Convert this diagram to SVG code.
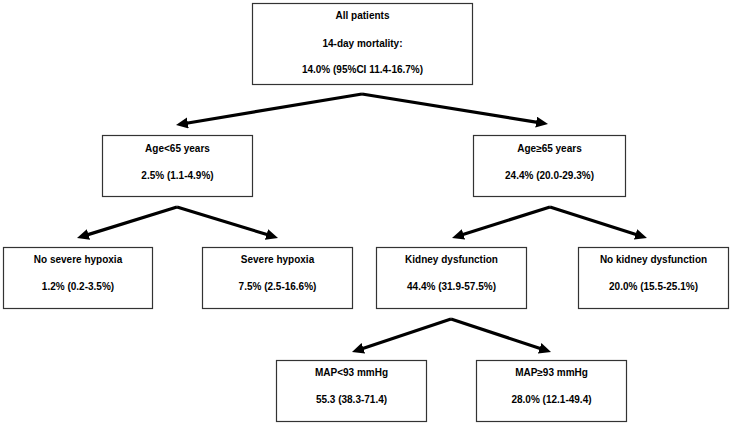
<svg xmlns="http://www.w3.org/2000/svg" width="731" height="424" viewBox="0 0 731 424">
<style>
.box{fill:#fff;stroke:#333;stroke-width:1.2}
.t{font-family:"Liberation Sans",Arial,sans-serif;font-weight:bold;font-size:10px;fill:#000;text-anchor:middle}
.arr{fill:none;stroke:#000;stroke-width:3.2;stroke-linejoin:miter}
</style>
<defs>
<marker id="ah" markerUnits="userSpaceOnUse" markerWidth="14" markerHeight="12" refX="3" refY="5.5" orient="auto">
<path d="M0,0 L12,5.5 L0,11 z" fill="#000"/>
</marker>
</defs>
<rect width="731" height="424" fill="#fff"/>
<g id="connectors">
<path class="arr" d="M362,94 L184.9,123.5" marker-end="url(#ah)"/>
<path class="arr" d="M362,94 L539.1,122.6" marker-end="url(#ah)"/>
<path class="arr" d="M177,207 L85.6,235.4" marker-end="url(#ah)"/>
<path class="arr" d="M177,207 L269.4,235.3" marker-end="url(#ah)"/>
<path class="arr" d="M550,207 L460.6,235.3" marker-end="url(#ah)"/>
<path class="arr" d="M550,207 L638.4,235.3" marker-end="url(#ah)"/>
<path class="arr" d="M451,319 L360.5,349.2" marker-end="url(#ah)"/>
<path class="arr" d="M451,319 L542.5,349.2" marker-end="url(#ah)"/>
</g>
<g id="all">
<rect class="box" x="252.5" y="3.5" width="220" height="81"/>
<text class="t" x="362.5" y="18.5">All patients</text>
<text class="t" x="362.5" y="47">14-day mortality:</text>
<text class="t" x="362.5" y="72.5">14.0% (95%CI 11.4-16.7%)</text>
</g>
<g id="age-lt65">
<rect class="box" x="102.5" y="135.5" width="150" height="61"/>
<text class="t" x="177.5" y="152">Age&lt;65 years</text>
<text class="t" x="177.5" y="179.3">2.5% (1.1-4.9%)</text>
</g>
<g id="age-ge65">
<rect class="box" x="473.5" y="135.5" width="152" height="61"/>
<text class="t" x="549.5" y="152">Age≥65 years</text>
<text class="t" x="549.5" y="179.3">24.4% (20.0-29.3%)</text>
</g>
<g id="no-severe-hypoxia">
<rect class="box" x="3.5" y="247.5" width="149" height="61"/>
<text class="t" x="78" y="263">No severe hypoxia</text>
<text class="t" x="78" y="290">1.2% (0.2-3.5%)</text>
</g>
<g id="severe-hypoxia">
<rect class="box" x="202.5" y="247.5" width="150" height="61"/>
<text class="t" x="277.5" y="263">Severe hypoxia</text>
<text class="t" x="277.5" y="290">7.5% (2.5-16.6%)</text>
</g>
<g id="kidney-dysfunction">
<rect class="box" x="376.5" y="247.5" width="150" height="61"/>
<text class="t" x="451.5" y="263">Kidney dysfunction</text>
<text class="t" x="451.5" y="290">44.4% (31.9-57.5%)</text>
</g>
<g id="no-kidney-dysfunction">
<rect class="box" x="578.5" y="247.5" width="150" height="61"/>
<text class="t" x="653.5" y="263">No kidney dysfunction</text>
<text class="t" x="653.5" y="290">20.0% (15.5-25.1%)</text>
</g>
<g id="map-lt93">
<rect class="box" x="276.5" y="360.5" width="150" height="61"/>
<text class="t" x="351.5" y="376">MAP&lt;93 mmHg</text>
<text class="t" x="351.5" y="402.5">55.3 (38.3-71.4)</text>
</g>
<g id="map-ge93">
<rect class="box" x="476.5" y="360.5" width="150" height="61"/>
<text class="t" x="551.5" y="376">MAP≥93 mmHg</text>
<text class="t" x="551.5" y="402.5">28.0% (12.1-49.4)</text>
</g>
</svg>
